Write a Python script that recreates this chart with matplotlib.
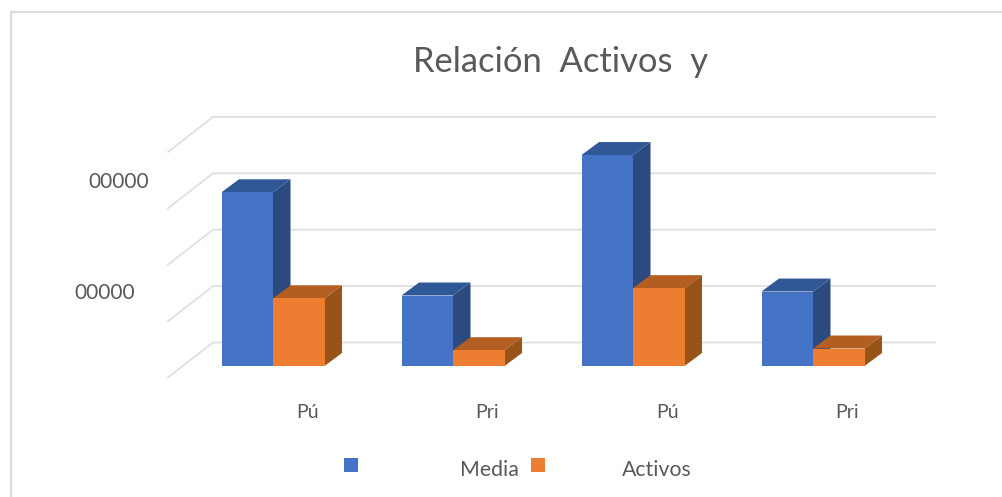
import matplotlib
matplotlib.use("Agg")
import matplotlib.pyplot as plt
from matplotlib.patches import Polygon, Rectangle
from matplotlib.transforms import Affine2D

categories = ["Pú", "Pri", "Pú", "Pri"]
media = [154000, 62500, 187000, 66000]
activos = [60000, 14000, 69000, 15500]
series_names = ["Media", "Activos"]
grid_values = [0, 50000, 100000, 150000, 200000]
tick_labels = ["00000", "00000"]
title = "Relación  Activos  y"

W, H = 1002, 497
PX_PER_UNIT = 56.4 / 50000
BASE_PX = 366.0
CAT_PX = 180.0
FIRST_PX = 273.0
BAR_W = 51.5 / CAT_PX
DX = 17.5 / CAT_PX
DY = 13 / PX_PER_UNIT
TEXT = "#595959"
plt.rcParams["font.family"] = ["Lato", "DejaVu Sans"]

fig = plt.figure(figsize=(W / 100, H / 100), dpi=100, facecolor="white")
ax = fig.add_axes([0, 0, 1, 1])
ax.set_xlim(-FIRST_PX / CAT_PX, (W - FIRST_PX) / CAT_PX)
ax.set_ylim(-(H - BASE_PX) / PX_PER_UNIT, BASE_PX / PX_PER_UNIT)
ax.axis("off")

# pixel coordinates (origin top-left) for the chart furniture
px = Affine2D().scale(1, -1).translate(0, H) + Affine2D().scale(fig.dpi / 100)

# chart frame: only the top and left edges are visible in the crop
ax.plot([10.5, 10.5, W], [H, 11.5, 11.5], color="#DCDCDC", lw=1.6,
        transform=px, clip_on=False, solid_joinstyle="miter")

# gridlines: sloped side wall and back wall, derived from the value axis
GRID_BACK = 23.5 / PX_PER_UNIT
for v in grid_values:
    y_back = v + GRID_BACK
    x0 = ax.get_xlim()[0] + 213 / CAT_PX
    x1 = ax.get_xlim()[0] + 935 / CAT_PX
    xf = ax.get_xlim()[0] + 168 / CAT_PX
    y_front = y_back - 35 / PX_PER_UNIT
    ax.plot([xf, x0, x1], [y_front, y_back, y_back], color="#E0E0E0", lw=1.3,
            solid_joinstyle="miter", zorder=1)


def bar3d(x, value, front, side, top, z):
    ax.add_patch(Polygon([(x + BAR_W, 0), (x + BAR_W + DX, DY), (x + BAR_W + DX, value + DY),
                          (x + BAR_W, value)], fc=side, ec="none", zorder=z))
    ax.add_patch(Polygon([(x, value), (x + DX, value + DY), (x + BAR_W + DX, value + DY),
                          (x + BAR_W, value)], fc=top, ec="none", zorder=z))
    ax.bar(x, value, BAR_W, align="edge", color=front, zorder=z + 0.1)


for i, (m, a) in enumerate(zip(media, activos)):
    bar3d(i - BAR_W, m, "#4472C4", "#2A4A80", "#315896", 2 + i)
    bar3d(i, a, "#ED7D31", "#985318", "#B35E20", 2.5 + i)

# texts
ax.text(560.5, 62, title, transform=px, ha="center", va="center", fontsize=24.8, color=TEXT)
for label, xr, yc in zip(tick_labels, [149, 135], [182, 293]):
    ax.text(xr, yc, label, transform=px, ha="right", va="center", fontsize=15, color=TEXT)
for label, xc in zip(categories, [308, 487, 668, 847]):
    ax.text(xc, 413, label, transform=px, ha="center", va="center", fontsize=14, color=TEXT)

# legend
for name, color, mx, tx in zip(series_names, ["#4472C4", "#ED7D31"], [344, 531], [460, 622]):
    ax.add_patch(Rectangle((mx, 458), 14, 14, transform=px, fc=color, ec="none", zorder=5))
    ax.text(tx, 470, name, transform=px, ha="left", va="center", fontsize=15.3, color=TEXT)

fig.savefig("out.png", dpi=100)
